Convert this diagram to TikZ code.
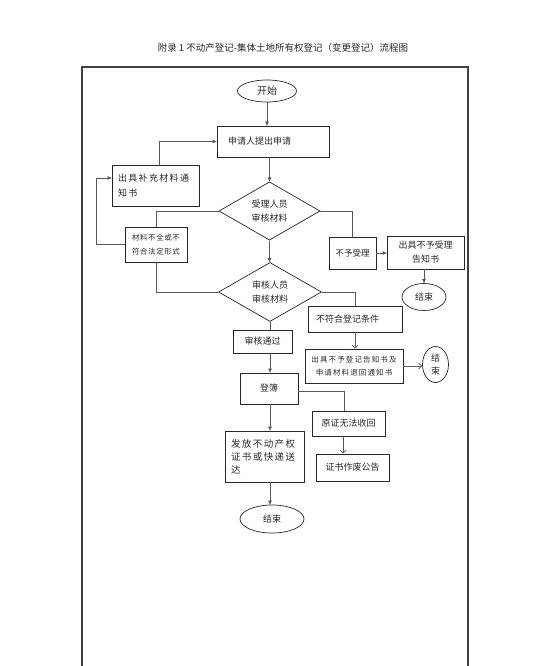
\documentclass[tikz,border=0pt]{standalone}
\usepackage{fontspec}
\usetikzlibrary{shapes.geometric,arrows.meta,calc}
\newfontfamily\cjk{Noto Sans CJK SC}
\newfontfamily\cjkw[LetterSpace=15]{Noto Sans CJK SC}
\newfontfamily\cjks[LetterSpace=7]{Noto Sans CJK SC}
\begin{document}
\begin{tikzpicture}[x=1pt,y=-1pt,
  every node/.style={font=\cjk\fontsize{9}{11}\selectfont, text=black!85},
  box/.style={draw=black!85, line width=0.7pt, rectangle, inner sep=0pt},
  oval/.style={draw=black!85, line width=0.7pt, ellipse, inner sep=0pt},
  dia/.style={draw=black!85, line width=0.7pt, diamond, inner sep=0pt, align=center, font=\cjk\fontsize{9}{14}\selectfont},
  frame/.style={draw=black!75, line width=1.2pt},
  conn/.style={draw=black!65, line width=0.7pt},
  arr/.style={conn, -{Triangle[length=4pt,width=3.5pt]}},
  oarr/.style={conn, -{Straight Barb[length=3pt,width=6pt]}}]
\useasboundingbox (0,0) rectangle (534,666);
\node[font=\cjk\fontsize{9.5}{11}\selectfont] (title) at (283,48) {附录 1 不动产登记-集体土地所有权登记（变更登记）流程图};
\draw[frame] (82,666) -- (82,67) -- (468,67) -- (468,666);

\node[oval, minimum width=59, minimum height=22, font=\cjk\fontsize{10}{12}\selectfont] (start) at (267,91) {开始};
\node[box, minimum height=31, text width=90, inner xsep=11, align=left] (apply) at (273,141.5) {申请人提出申请};
\node[dia, minimum width=101, minimum height=58] (d1) at (269.5,211) {受理人员\\审核材料};
\node[box, minimum height=41, text width=75, inner xsep=6, align=left, font=\cjkw\fontsize{9}{15}\selectfont] (supp) at (155.5,185.5) {出具补充材料通\\知书};
\node[box, minimum width=62, minimum height=35, align=center, font=\cjks\fontsize{7.5}{14}\selectfont] (incomplete) at (156,244.5) {材料不全或不\\符合法定形式};
\node[box, minimum width=47, minimum height=32, font=\cjk\fontsize{8.5}{10}\selectfont] (reject1) at (352.5,253) {不予受理};
\node[box, minimum width=77, minimum height=33, align=center, font=\cjk\fontsize{9}{14}\selectfont] (rejnotice) at (425.5,252.5) {出具不予受理\\告知书};
\node[oval, minimum width=44, minimum height=27] (end1) at (424,297) {结束};
\node[dia, minimum width=103, minimum height=59] (d2) at (270,292) {审核人员\\审核材料};
\node[box, minimum height=26, text width=78, inner xsep=8, align=left] (noncond) at (355,319) {不符合登记条件};
\node[box, minimum width=98, minimum height=34, align=center, font=\cjkw\fontsize{7.5}{13}\selectfont] (rejreg) at (354,366) {出具不予登记告知书及\\申请材料退回通知书};
\node[oval, minimum width=26, minimum height=36, align=center, font=\cjk\fontsize{9}{13}\selectfont] (end2) at (435.5,364.5) {结\\束};
\node[box, minimum width=59, minimum height=23] (pass) at (262.5,341.5) {审核通过};
\node[box, minimum width=58, minimum height=31] (reg) at (269,388.5) {\raisebox{2pt}{登簿}};
\node[box, minimum width=73, minimum height=25] (nocert) at (348.5,423.5) {原证无法收回};
\node[box, minimum width=73, minimum height=27] (void) at (352.5,467.5) {证书作废公告};
\node[box, minimum height=51, text width=67, inner xsep=6, align=left, font=\cjkw\fontsize{9.5}{13}\selectfont] (issue) at (264.5,456.5) {发放不动产权\\证书或快递送\\达};
\node[oval, minimum width=64, minimum height=28] (end3) at (272,519) {结束};

\draw[arr] (start.south) -- (start.south |- apply.north);
\draw[arr] (apply.south -| d1.north) -- (d1.north);
\draw[conn] (d1.west) -| (incomplete.north);
\draw[arr] (incomplete.west) -- ++(-28,0) |- ([yshift=7.5pt]supp.west);
\draw[arr] ([xshift=3.5pt]supp.north) |- (apply.west);
\draw[conn] (d1.east) -| (reject1.north);
\draw[arr] (reject1.east) -- (reject1.east -| rejnotice.west);
\draw[arr] (rejnotice.south -| end1.north) -- (end1.north);
\draw[arr] (d1.south) -- (d1.south |- d2.north);
\draw[conn] (incomplete.south) |- (d2.west);
\draw[conn] (d2.east) -| (noncond.north);
\draw[oarr] (noncond.south) -- (noncond.south |- rejreg.north);
\draw[oarr] (rejreg.east) -- (rejreg.east -| end2.west);
\draw[conn] (d2.south) -- (d2.south |- pass.north);
\draw[arr] (d2.south |- pass.south) -- (d2.south |- reg.north);
\draw[conn] ([yshift=-2.5pt]reg.east) -| ([xshift=-4.5pt]nocert.north);
\draw[oarr] ([xshift=-5.5pt]nocert.south) -- ([xshift=-5.5pt]nocert.south |- void.north);
\draw[arr] (d2.south |- reg.south) -- (d2.south |- issue.north);
\draw[arr] (d2.south |- issue.south) -- (d2.south |- end3.north);
\end{tikzpicture}
\end{document}
